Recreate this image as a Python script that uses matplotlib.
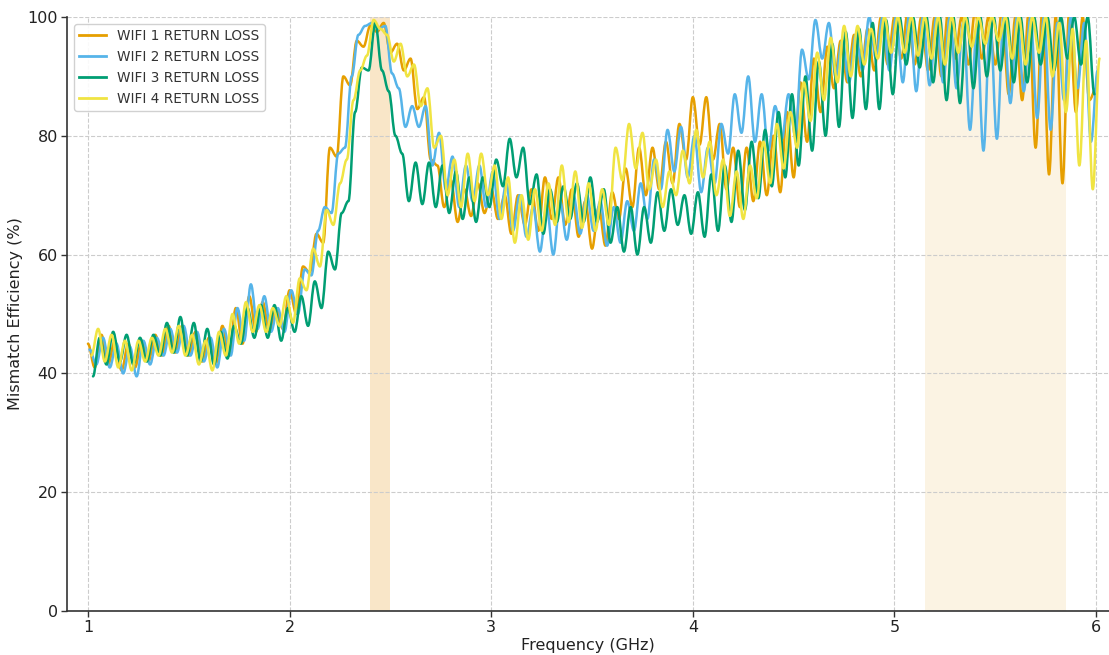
import numpy as np
import matplotlib
matplotlib.use("Agg")
import matplotlib.pyplot as plt
from matplotlib.path import Path
from matplotlib.patches import PathPatch
from matplotlib.lines import Line2D

# ---------------- data ----------------
series_labels = ["WIFI 1 RETURN LOSS", "WIFI 2 RETURN LOSS",
                 "WIFI 3 RETURN LOSS", "WIFI 4 RETURN LOSS"]
series_colors = ["#E69F00", "#56B4E9", "#009E73", "#F0E442"]

# turning points of each curve are read every 1/30 GHz, starting at these frequencies
freq_step = 1.0 / 30.0
wifi1_start = 1.000
wifi2_start = 1.008
wifi3_start = 1.025
wifi4_start = 1.017

# WIFI 1: peak values and trough values (alternating peak, trough, peak, ...)
wifi1_peaks = [45, 46.5, 45.5, 45, 45.5, 46.5, 48, 48, 47, 46,
               48, 51, 53, 52, 51, 54, 58, 63.5, 78, 90,
               96, 98.5, 99, 95.5, 93, 86.5, 75, 72.5, 71, 72,
               71, 70, 70, 71, 73, 73, 71, 69, 68, 70.5,
               74.5, 78, 78, 79, 82, 86.5, 86.5, 82, 78, 78,
               79, 80, 84, 89, 93, 95, 96, 97, 98, 100,
               100, 101, 100, 100, 101, 100, 101, 100, 101, 100,
               101, 101, 100, 101, 100, 88]
wifi1_troughs = [41, 41.5, 40.5, 41, 42, 43, 43.5, 43, 42, 41.5,
                 43, 45, 47, 47, 47.5, 50, 57, 62, 76.5, 88.5,
                 95, 97.5, 94, 91, 84.5, 76, 68, 65.5, 66.5, 67,
                 66, 63.5, 65, 64, 66, 65, 63, 61, 61.5, 66,
                 68, 70, 71, 72, 76, 78.5, 76, 71, 68, 69,
                 70, 70.5, 73, 79, 84, 88, 89, 90, 91, 92,
                 93, 92, 91, 90, 93, 92, 93, 92, 87, 86,
                 78, 73.5, 72, 84, 86]

# WIFI 2
wifi2_peaks = [44, 46, 45, 44.5, 45.5, 46, 47.5, 48, 47, 46,
               47.5, 51, 55, 53, 51, 54, 57.5, 64, 67, 78,
               97, 99, 98.5, 88, 85, 85, 80.5, 76.5, 75, 75,
               74, 72, 70, 68, 68, 69, 70, 70, 69, 68,
               69, 72, 76, 81, 81.5, 80, 78, 82, 87, 90,
               87, 85, 87, 94.5, 99.5, 99, 96, 97, 100, 100,
               100, 101, 100, 100, 100, 99, 98, 99, 100, 100,
               100, 100, 99, 100, 99, 91]
wifi2_troughs = [41.5, 41, 40, 39.5, 41.5, 43, 43.5, 43, 42, 41,
                 43, 45.5, 47.5, 47, 47, 50, 56.5, 68, 77, 90,
                 98.5, 98, 90.5, 81.5, 81.5, 75, 71, 68, 69, 68,
                 66, 64, 63, 60.5, 60, 62.5, 63.5, 64, 61.5, 62,
                 64, 66, 71, 74, 73, 70.5, 72, 77, 80.5, 79,
                 77.5, 79.5, 80, 89.5, 93, 90, 89, 91, 93, 91,
                 89, 87.5, 88.5, 89, 88, 81, 77.5, 79.5, 85.5, 87.5,
                 83, 81, 86, 88, 79]

# WIFI 3 (alternating trough, peak, ...)
wifi3_extrema = [39.5, 46, 41.5, 47, 42, 46.5, 41.5, 46, 42, 46.5,
                 43, 48.5, 43.5, 49.5, 43, 48.5, 42, 47.5, 41.5, 47,
                 42.5, 48, 45, 51, 46, 51.5, 46, 51.5, 45.5, 51,
                 47, 53, 48, 55.5, 51, 60.5, 57.5, 67, 69, 84,
                 91.5, 91, 99, 91, 87.5, 80, 77, 69, 75.5, 68.5,
                 75.5, 68, 75, 67, 74, 66, 73, 65.5, 73, 68,
                 76, 71.5, 79.5, 73, 78, 68.5, 73.5, 63.5, 71, 65.5,
                 71.5, 66, 72, 65.5, 73, 65.5, 71, 62, 68, 60.5,
                 68, 60, 68, 62, 70.5, 64, 71, 65, 70, 63.5,
                 70.5, 63, 73.5, 64, 75, 65.5, 77.5, 67.5, 79, 69.5,
                 81, 71.5, 84, 73, 87, 75, 90, 77.5, 92.5, 80,
                 95.5, 81.5, 97.5, 83, 98, 84.5, 99, 84.5, 99.5, 87,
                 100, 92, 100, 91.5, 100, 89, 100, 86, 100, 85.5,
                 100, 88, 100, 90, 100, 91, 100, 89, 100, 89,
                 100, 92, 100, 91, 100, 93, 100, 92, 100, 87]

# WIFI 4 (alternating trough, peak, ...)
wifi4_extrema = [43, 47.5, 42, 46.5, 41, 45.5, 40.5, 45.5, 42, 46,
                 43, 47.5, 43.5, 48, 43, 46.5, 41.5, 45.5, 40.5, 47,
                 43, 50, 45, 52, 47, 51.5, 47, 51, 48, 53,
                 48.5, 56, 54, 61, 58, 67.5, 65, 72, 76, 86,
                 91, 93.5, 99.5, 98, 97, 92.5, 95.5, 90, 92, 85,
                 88, 78, 80, 70, 76, 68, 77, 69, 77, 70,
                 75, 66, 73, 62, 70, 62.5, 71, 64, 72, 65,
                 75, 65.5, 74, 64.5, 72, 64, 71, 65, 78, 72.5,
                 82, 74.5, 80.5, 71, 76, 68, 74, 70, 77.5, 72,
                 81, 73, 79, 70, 76, 66.5, 74, 66, 75, 69.5,
                 79, 72, 82, 74.5, 84, 78, 89, 82.5, 94, 86,
                 96.5, 89, 98.5, 90, 98.5, 92, 98, 93, 100, 94,
                 100, 94, 100, 93.5, 100, 93, 100, 92, 100, 94,
                 100, 95, 100, 95.5, 100, 96, 100, 93, 100, 92,
                 100, 94, 100, 90, 99, 84, 98, 75, 96, 71,
                 93]

x_ticks = [1, 2, 3, 4, 5, 6]
y_ticks = [0, 20, 40, 60, 80, 100]
band_24 = (2.4, 2.5)
band_5 = (5.15, 5.85)


def interleave(peaks, troughs):
    out = np.empty(len(peaks) + len(troughs))
    out[0::2] = peaks
    out[1::2] = troughs
    return out


def smooth_path(x, y):
    verts = [(x[0], y[0])]
    codes = [Path.MOVETO]
    for i in range(len(x) - 1):
        dx = x[i + 1] - x[i]
        verts += [(x[i] + 0.36 * dx, y[i]), (x[i + 1] - 0.36 * dx, y[i + 1]),
                  (x[i + 1], y[i + 1])]
        codes += [Path.CURVE4] * 3
    return Path(verts, codes)


series_vals = [interleave(wifi1_peaks, wifi1_troughs),
               interleave(wifi2_peaks, wifi2_troughs),
               np.array(wifi3_extrema, float),
               np.array(wifi4_extrema, float)]
starts = [wifi1_start, wifi2_start, wifi3_start, wifi4_start]

# ---------------- figure ----------------
fig = plt.figure(figsize=(11.09, 6.55), dpi=100)
ax = fig.add_axes([67 / 1109, 44 / 655, 1042 / 1109, 594 / 655])

ax.axvspan(*band_24, color="#f9e6c8", lw=0, zorder=0.5)
ax.axvspan(*band_5, color="#fbf3e3", lw=0, zorder=0.5)

for vals, start, col in zip(series_vals, starts, series_colors):
    freqs = start + np.arange(len(vals)) * freq_step
    patch = PathPatch(smooth_path(freqs, vals), facecolor="none",
                      edgecolor=col, lw=1.8, zorder=2, capstyle="round",
                      joinstyle="round")
    ax.add_patch(patch)

ax.set_xlim(0.896, 6.064)
ax.set_ylim(0, 100)
ax.set_xticks(x_ticks)
ax.set_yticks(y_ticks)
ax.tick_params(labelsize=11.5, length=4, width=1, pad=2.5,
               colors="#333333", labelcolor="#222222")
ax.grid(True, linestyle="--", color="#cccccc", lw=0.8, zorder=0)
ax.set_axisbelow(True)
for s in ["top", "right"]:
    ax.spines[s].set_visible(False)
for s in ["left", "bottom"]:
    ax.spines[s].set_color("#333333")
    ax.spines[s].set_linewidth(1.2)

ax.set_xlabel("Frequency (GHz)", fontsize=11.5, color="#222222", labelpad=2)
ax.set_ylabel("Mismatch Efficiency (%)", fontsize=11.5, color="#222222", labelpad=3)

handles = [Line2D([], [], color=c, lw=2) for c in series_colors]
leg = ax.legend(handles, series_labels, loc="upper left", fontsize=9.8,
                framealpha=0.9, edgecolor="#cccccc", handlelength=2.0)
for t in leg.get_texts():
    t.set_color("#333333")

fig.savefig("out.png", dpi=100)
